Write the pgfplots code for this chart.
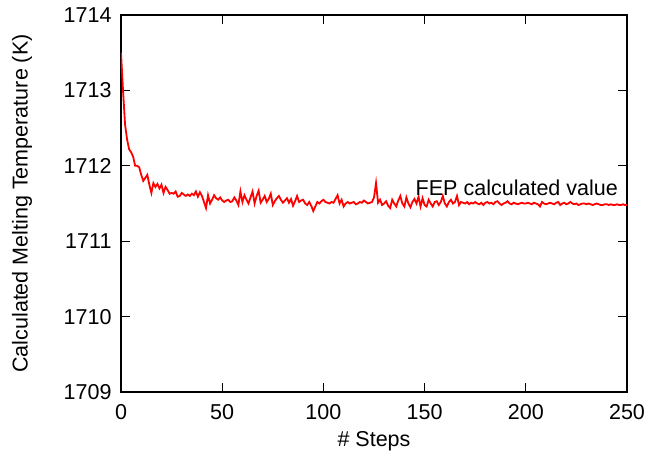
\documentclass[border=0pt]{standalone}
\usepackage{fontspec}
\setmainfont{Liberation Sans}
\usepackage{pgfplots}
\pgfplotsset{compat=1.18}
\usepackage{pgfplotstable}

% melting temperature estimate vs. step
\pgfplotstableread{
x y
0 1713.50
1 1713.00
2 1712.55
3 1712.35
4 1712.22
5 1712.18
6 1712.12
7 1712.00
8 1712.00
9 1711.98
10 1711.88
11 1711.80
12 1711.84
13 1711.88
14 1711.75
15 1711.64
16 1711.77
17 1711.72
18 1711.76
19 1711.70
20 1711.75
21 1711.64
22 1711.72
23 1711.68
24 1711.63
25 1711.64
26 1711.63
27 1711.66
28 1711.59
29 1711.60
30 1711.64
31 1711.62
32 1711.60
33 1711.62
34 1711.60
35 1711.63
36 1711.61
37 1711.66
38 1711.59
39 1711.65
40 1711.60
41 1711.52
42 1711.44
43 1711.61
44 1711.50
45 1711.55
46 1711.61
47 1711.57
48 1711.55
49 1711.58
50 1711.54
51 1711.52
52 1711.54
53 1711.55
54 1711.52
55 1711.53
56 1711.58
57 1711.54
58 1711.48
59 1711.66
60 1711.52
61 1711.61
62 1711.55
63 1711.50
64 1711.58
65 1711.66
66 1711.50
67 1711.60
68 1711.67
69 1711.51
70 1711.55
71 1711.60
72 1711.52
73 1711.56
74 1711.63
75 1711.48
76 1711.53
77 1711.57
78 1711.60
79 1711.55
80 1711.51
81 1711.54
82 1711.57
83 1711.51
84 1711.56
85 1711.47
86 1711.53
87 1711.60
88 1711.52
89 1711.54
90 1711.55
91 1711.50
92 1711.48
93 1711.52
94 1711.47
95 1711.40
96 1711.46
97 1711.52
98 1711.50
99 1711.53
100 1711.55
101 1711.52
102 1711.51
103 1711.50
104 1711.52
105 1711.51
106 1711.56
107 1711.61
108 1711.50
109 1711.55
110 1711.46
111 1711.50
112 1711.52
113 1711.50
114 1711.51
115 1711.52
116 1711.49
117 1711.50
118 1711.52
119 1711.51
120 1711.54
121 1711.52
122 1711.50
123 1711.51
124 1711.52
125 1711.58
126 1711.77
127 1711.51
128 1711.55
129 1711.48
130 1711.50
131 1711.53
132 1711.47
133 1711.44
134 1711.55
135 1711.50
136 1711.46
137 1711.54
138 1711.60
139 1711.50
140 1711.46
141 1711.58
142 1711.50
143 1711.45
144 1711.52
145 1711.56
146 1711.50
147 1711.59
148 1711.46
149 1711.57
150 1711.48
151 1711.46
152 1711.55
153 1711.50
154 1711.46
155 1711.52
156 1711.53
157 1711.48
158 1711.52
159 1711.60
160 1711.50
161 1711.46
162 1711.52
163 1711.55
164 1711.50
165 1711.52
166 1711.60
167 1711.48
168 1711.52
169 1711.51
170 1711.50
171 1711.52
172 1711.49
173 1711.51
174 1711.50
175 1711.52
176 1711.50
177 1711.49
178 1711.51
179 1711.48
180 1711.51
181 1711.52
182 1711.50
183 1711.51
184 1711.49
185 1711.52
186 1711.53
187 1711.50
188 1711.48
189 1711.50
190 1711.51
191 1711.53
192 1711.50
193 1711.49
194 1711.51
195 1711.50
196 1711.49
197 1711.50
198 1711.51
199 1711.50
200 1711.50
201 1711.51
202 1711.50
203 1711.49
204 1711.51
205 1711.50
206 1711.49
207 1711.46
208 1711.52
209 1711.50
210 1711.49
211 1711.50
212 1711.51
213 1711.50
214 1711.49
215 1711.51
216 1711.52
217 1711.48
218 1711.50
219 1711.51
220 1711.49
221 1711.50
222 1711.52
223 1711.50
224 1711.49
225 1711.50
226 1711.48
227 1711.49
228 1711.50
229 1711.50
230 1711.49
231 1711.50
232 1711.49
233 1711.48
234 1711.49
235 1711.50
236 1711.49
237 1711.48
238 1711.48
239 1711.49
240 1711.49
241 1711.48
242 1711.49
243 1711.48
244 1711.48
245 1711.49
246 1711.48
247 1711.48
248 1711.49
249 1711.48
250 1711.48
}\melttable

\begin{document}
\begin{tikzpicture}
\useasboundingbox (-121bp,-67bp) rectangle (527bp,392bp);
\begin{axis}[
    at={(0,0)}, anchor=south west,
    scale only axis,
    width=506bp, height=377bp,
    xmin=0, xmax=250,
    ymin=1709, ymax=1714,
    xtick={0,50,...,250},
    ytick={1709,1710,...,1714},
    tick align=inside,
    major tick length=9bp,
    tick style={black, line width=1bp},
    axis line style={black, line width=1.2bp},
    /pgf/number format/assume math mode=true,
    /pgf/number format/set thousands separator={},
    ticklabel style={font=\fontsize{21.6}{24}\selectfont},
    yticklabel style={xshift=-6bp},
    xticklabel style={yshift=-9bp},
    xlabel={\# Steps},
    ylabel={Calculated Melting Temperature (K)},
    xlabel style={font=\fontsize{21.6}{24}\selectfont,
        at={(axis description cs:0.5,-0.1300)}, anchor=center},
    ylabel style={font=\fontsize{21.6}{24}\selectfont,
        at={(axis description cs:-0.1957,0.5)}, anchor=center, rotate=0},
]
\addplot[red, line width=1.8bp, no markers] table[x=x, y=y] {\melttable};
\node[font=\fontsize{21.6}{24}\selectfont, anchor=base east, inner sep=0pt]
    at (axis cs:245.6,1711.61) {FEP calculated value};
\end{axis}
\end{tikzpicture}
\end{document}
